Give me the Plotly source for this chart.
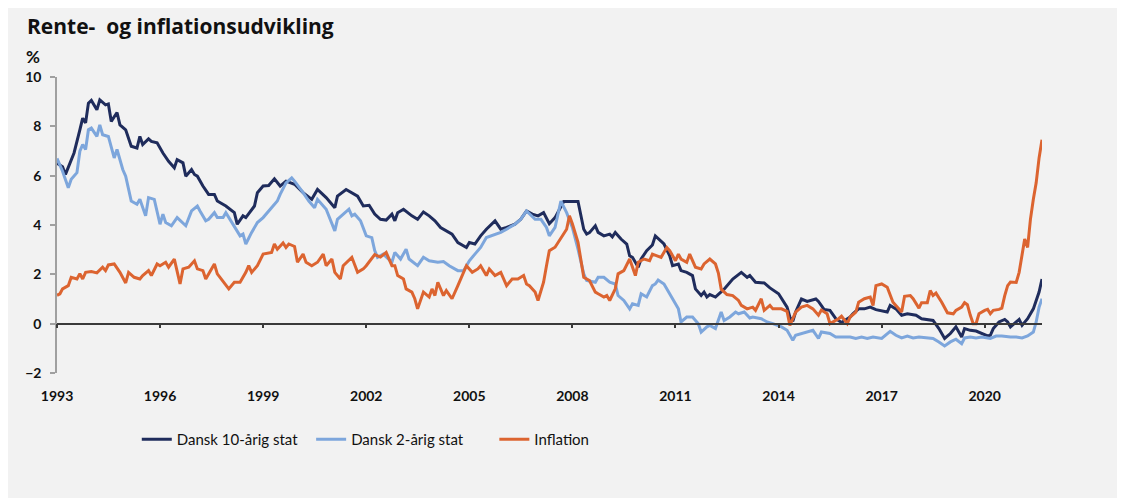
import plotly.graph_objects as go

# Month offsets counted from January 1993, values in percent
m10 = [0, 2, 3, 6, 8, 9, 10, 11, 12, 14, 15, 17, 18, 19, 21, 22, 24, 26, 28, 29, 30, 32, 33, 35, 37, 39, 41, 42, 44, 45,
       47, 48, 49, 51, 53, 55, 56, 59, 62, 63, 65, 66, 69, 70, 72, 74, 76, 78, 80, 83, 86, 89, 91, 94, 97, 98, 101, 103, 105, 107,
       109, 111, 113, 115, 117, 118, 119, 121, 124, 126, 128, 130, 132, 134, 136, 138, 140, 143, 144, 146, 148, 150, 153, 155, 157, 160, 162, 164, 166, 168,
       170, 171, 172, 174, 176, 177, 182, 183, 184, 185, 186, 188, 189, 191, 193, 194, 195, 197, 199, 200, 201, 203, 204, 206, 208, 209, 211, 212, 214, 215,
       217, 218, 220, 222, 223, 225, 226, 227, 228, 230, 233, 236, 239, 241, 242, 244, 247, 249, 252, 253, 254, 255, 256, 257, 258, 260, 262, 265, 266, 268,
       270, 272, 274, 277, 278, 280, 282, 284, 286, 290, 291, 293, 295, 297, 300, 302, 306, 308, 310, 312, 314, 316, 317, 319, 321, 323, 325, 326, 327, 329,
       331, 332, 333, 335, 336, 337, 339, 341, 343, 344]
v10 = [6.5, 6.36, 6.05, 6.92, 7.86, 8.33, 8.14, 8.94, 9.05, 8.67, 9.07, 8.87, 8.91, 8.2, 8.56, 8.06, 7.86, 7.19, 7.12, 7.59, 7.26, 7.49, 7.39, 7.33, 6.92, 6.58, 6.32, 6.65, 6.52, 5.98,
       6.25, 6.05, 5.98, 5.58, 5.24, 5.24, 4.97, 4.77, 4.5, 4.03, 4.37, 4.3, 4.77, 5.31, 5.58, 5.6, 5.87, 5.58, 5.78, 5.65, 5.31, 5.04, 5.44, 5.11, 4.7, 5.17, 5.44, 5.31, 5.17, 4.77,
       4.8, 4.44, 4.23, 4.2, 4.44, 4.17, 4.5, 4.64, 4.37, 4.23, 4.53, 4.37, 4.17, 3.9, 3.76, 3.63, 3.29, 3.09, 3.29, 3.23, 3.56, 3.83, 4.17, 3.83, 3.9, 4.03, 4.23, 4.57, 4.44, 4.37,
       4.5, 4.3, 4.05, 4.3, 4.77, 4.95, 4.95, 4.37, 3.83, 3.63, 3.69, 3.97, 3.7, 3.56, 3.63, 3.52, 3.7, 3.43, 3.23, 2.75, 2.69, 2.29, 2.62, 2.96, 3.19, 3.56, 3.36, 3.23, 2.75, 2.35,
       2.42, 2.15, 2.08, 1.95, 1.41, 1.14, 1.28, 1.08, 1.18, 1.08, 1.4, 1.81, 2.08, 1.88, 1.95, 1.68, 1.65, 1.45, 1.21, 1.01, 0.87, 0.67, 0.27, 0.1, 0.47, 1.0, 0.9, 1.0, 0.9, 0.57,
       0.54, 0.2, 0.05, 0.27, 0.4, 0.6, 0.6, 0.67, 0.57, 0.47, 0.74, 0.6, 0.34, 0.4, 0.34, 0.2, 0.13, -0.2, -0.6, -0.4, -0.13, -0.54, -0.2, -0.27, -0.3, -0.4, -0.5, -0.47, -0.2, 0.07,
       0.17, 0.07, -0.13, 0.07, 0.17, -0.07, 0.2, 0.6, 1.28, 1.81]

m2 = [0, 2, 4, 5, 7, 8, 9, 10, 11, 12, 14, 15, 16, 18, 20, 21, 23, 24, 26, 28, 29, 31, 32, 34, 36, 37, 38, 40, 42, 45,
      47, 49, 50, 52, 53, 55, 56, 58, 59, 62, 64, 65, 66, 68, 70, 72, 75, 77, 78, 80, 82, 83, 86, 88, 90, 91, 94, 97, 98, 100,
      102, 103, 104, 106, 108, 110, 111, 112, 114, 117, 118, 120, 122, 123, 126, 128, 130, 133, 135, 137, 140, 142, 144, 146, 148, 150, 153, 155, 157, 160,
      162, 164, 167, 169, 171, 172, 174, 176, 178, 180, 182, 183, 184, 185, 188, 189, 191, 193, 195, 196, 198, 200, 201, 203, 204, 206, 208, 209, 210, 212,
      214, 216, 217, 218, 220, 222, 224, 225, 227, 228, 230, 232, 233, 235, 237, 238, 240, 242, 243, 246, 248, 250, 253, 255, 257, 258, 260, 262, 264, 266,
      267, 270, 272, 274, 277, 279, 281, 283, 285, 288, 291, 293, 295, 297, 299, 301, 304, 306, 308, 310, 312, 314, 316, 317, 319, 321, 323, 326, 328, 330,
      333, 335, 337, 339, 341, 342, 343, 344]
v2 = [6.7, 6.18, 5.51, 5.85, 6.12, 6.99, 7.26, 7.06, 7.86, 7.93, 7.59, 8.06, 7.66, 7.59, 6.72, 7.06, 6.25, 5.98, 4.97, 4.84, 5.04, 4.37, 5.11, 5.04, 4.03, 4.44, 4.1, 3.97, 4.3, 3.97,
      4.57, 4.77, 4.57, 4.17, 4.23, 4.5, 4.3, 4.3, 4.5, 3.97, 3.56, 3.63, 3.23, 3.7, 4.1, 4.3, 4.7, 4.97, 5.24, 5.71, 5.91, 5.78, 5.31, 4.97, 4.7, 5.04, 4.64, 3.76, 4.23, 4.44,
      4.64, 4.37, 4.44, 4.17, 3.56, 3.49, 2.96, 2.69, 2.82, 2.49, 2.89, 2.62, 3.02, 2.62, 2.35, 2.69, 2.55, 2.49, 2.52, 2.35, 2.15, 2.15, 2.55, 2.82, 3.09, 3.49, 3.63, 3.7, 3.83, 4.03,
      4.23, 4.57, 4.23, 4.23, 3.9, 3.56, 3.9, 4.97, 4.5, 3.9, 3.02, 2.55, 2.02, 1.75, 1.68, 1.88, 1.88, 1.68, 1.61, 1.14, 0.94, 0.6, 0.81, 0.74, 1.21, 1.08, 1.54, 1.61, 1.77, 1.61,
      1.21, 0.81, 0.6, 0.07, 0.27, 0.27, 0.0, -0.34, -0.13, -0.07, -0.2, 0.47, 0.13, 0.27, 0.47, 0.4, 0.47, 0.23, 0.27, 0.2, 0.07, 0.0, -0.13, -0.27, -0.67, -0.47, -0.4, -0.34, -0.27, -0.6,
      -0.34, -0.4, -0.54, -0.54, -0.54, -0.6, -0.54, -0.6, -0.54, -0.6, -0.31, -0.47, -0.58, -0.5, -0.58, -0.54, -0.58, -0.6, -0.74, -0.9, -0.74, -0.63, -0.81, -0.58, -0.54, -0.58, -0.54, -0.6, -0.5, -0.5,
      -0.54, -0.54, -0.58, -0.5, -0.34, 0.07, 0.67, 1.01]

mi = [0, 1, 2, 4, 5, 7, 8, 9, 10, 12, 14, 16, 17, 18, 20, 22, 24, 25, 27, 29, 30, 32, 33, 35, 36, 38, 39, 41, 43, 44,
      46, 48, 49, 51, 52, 55, 56, 57, 60, 62, 64, 66, 67, 68, 70, 72, 75, 76, 77, 79, 80, 81, 83, 84, 86, 87, 89, 91, 93, 94,
      96, 97, 99, 100, 102, 103, 105, 107, 108, 110, 111, 113, 115, 117, 118, 119, 121, 122, 124, 125, 126, 128, 130, 131, 132, 133, 135, 136, 138, 140,
      142, 143, 145, 147, 148, 150, 151, 153, 155, 157, 159, 161, 163, 164, 165, 167, 168, 170, 171, 172, 174, 176, 178, 179, 180, 182, 183, 184, 186, 188,
      189, 191, 192, 193, 195, 196, 198, 200, 202, 203, 205, 207, 208, 210, 211, 213, 214, 216, 217, 218, 220, 221, 223, 225, 226, 228, 230, 231, 232, 234,
      236, 238, 239, 241, 243, 244, 246, 247, 249, 250, 253, 255, 256, 258, 260, 262, 264, 266, 267, 269, 270, 273, 274, 276, 277, 279, 280, 282, 284, 285,
      286, 288, 290, 292, 294, 295, 296, 298, 299, 301, 302, 304, 305, 306, 307, 309, 311, 313, 314, 316, 317, 318, 319, 320, 321, 322, 324, 325, 326, 327,
      329, 330, 331, 332, 333, 335, 336, 337, 338, 339, 340, 341, 342, 343, 344]
vi = [1.15, 1.21, 1.41, 1.54, 1.88, 1.81, 2.02, 1.81, 2.08, 2.11, 2.06, 2.29, 2.15, 2.38, 2.42, 2.08, 1.65, 2.08, 1.88, 1.81, 1.95, 2.15, 1.95, 2.42, 2.35, 2.49, 2.29, 2.62, 1.61, 2.22,
      2.29, 2.55, 2.22, 2.15, 1.81, 2.42, 2.02, 1.88, 1.41, 1.68, 1.68, 2.08, 2.35, 2.08, 2.35, 2.82, 2.89, 3.23, 3.02, 3.27, 3.09, 3.23, 3.13, 2.49, 2.82, 2.49, 2.35, 2.49, 2.82, 2.35,
      2.62, 2.08, 1.81, 2.35, 2.55, 2.69, 2.08, 2.22, 2.35, 2.62, 2.8, 2.7, 2.89, 2.35, 2.35, 1.95, 1.81, 1.41, 1.28, 1.01, 0.6, 1.28, 1.08, 1.41, 1.14, 1.68, 1.14, 1.34, 1.01, 1.54,
      2.08, 2.35, 2.08, 2.22, 2.35, 1.95, 2.22, 1.95, 2.08, 1.54, 1.81, 1.81, 1.95, 1.61, 1.54, 1.28, 0.94, 1.68, 2.35, 2.96, 3.1, 3.45, 3.83, 4.37, 4.05, 3.3, 2.52, 1.88, 1.75, 1.28,
      1.21, 1.08, 1.14, 0.94, 1.41, 2.02, 2.15, 2.62, 1.95, 2.49, 2.62, 2.55, 2.82, 2.75, 2.69, 3.09, 2.96, 2.55, 2.82, 2.62, 2.49, 2.82, 2.29, 2.22, 2.42, 2.62, 2.42, 2.05, 1.4, 1.18,
      1.14, 0.94, 0.74, 0.6, 0.67, 0.54, 1.01, 0.54, 0.74, 0.6, 0.6, 0.5, -0.07, 0.47, 0.67, 0.74, 0.6, 0.34, 0.55, 0.4, 0.0, 0.2, 0.3, 0.0, 0.27, 0.47, 0.87, 1.01, 1.08, 0.74,
      1.54, 1.61, 1.48, 0.87, 0.6, 0.47, 1.11, 1.14, 1.01, 0.63, 0.85, 0.85, 1.34, 1.14, 1.24, 0.87, 0.44, 0.4, 0.54, 0.67, 0.85, 0.77, 0.34, 0.0, 0.0, 0.4, 0.54, 0.58, 0.4, 0.54,
      0.58, 0.63, 1.14, 1.54, 1.69, 1.67, 2.08, 2.82, 3.43, 3.09, 4.23, 5.04, 5.71, 6.72, 7.46]

tick_years = [1993, 1996, 1999, 2002, 2005, 2008, 2011, 2014, 2017, 2020]
names = ["Dansk 10-årig stat", "Dansk 2-årig stat", "Inflation"]
colors = ["#1f2c5c", "#7da6dc", "#dc6430"]


def to_dates(months):
    return [f"{1993 + m // 12}-{m % 12 + 1:02d}-01" for m in months]


FONT = "Lato"
fig = go.Figure()
series = [(m10, v10), (m2, v2), (mi, vi)]
legends = ["legend", "legend2", "legend3"]
xaxes = ["x", "x", "x2"]
for (mm, vv), name, col, lg, xa in zip(series, names, colors, legends, xaxes):
    fig.add_trace(go.Scatter(x=to_dates(mm), y=vv, mode="lines", name=name, xaxis=xa,
                             line=dict(color=col, width=3), legend=lg, showlegend=True))

end_date = to_dates([m10[-1]])[0]
tickvals = [f"{y}-01-01" for y in tick_years]
ticktext = [str(y) for y in tick_years]

W, H = 1117, 490
fig.update_layout(
    width=W, height=H,
    margin=dict(l=49, r=83, t=69, b=125),
    paper_bgcolor="#f2f2f2", plot_bgcolor="#f2f2f2",
    font=dict(family=FONT, color="#1a1a1a"),
    showlegend=True,
    title=dict(text="<b>Rente-  og inflationsudvikling</b>", x=19 / W, xanchor="left",
               y=1 - 19 / H, yanchor="middle",
               font=dict(size=21, family="Open Sans", color="#111111")),
    xaxis=dict(type="date", range=["1993-01-01", end_date], anchor="free", position=2 / 12,
               showline=True, linecolor="#3a3a3a", linewidth=1.5, ticks="outside", ticklen=4,
               tickwidth=1.5, tickcolor="#3a3a3a", tickvals=tickvals, showticklabels=False,
               showgrid=False, zeroline=False),
    xaxis2=dict(type="date", overlaying="x", matches="x", anchor="y", side="bottom",
                showline=False, ticks="outside", ticklen=10, tickcolor="rgba(0,0,0,0)",
                tickvals=tickvals, ticktext=ticktext, showgrid=False, zeroline=False,
                tickfont=dict(size=14, family=FONT, weight="bold", color="#111111")),
    yaxis=dict(range=[-2, 10], dtick=2, showline=True, linecolor="#a0a0a0", linewidth=1.5,
               ticks="outside", ticklen=5, tickcolor="#a0a0a0", tickwidth=1.5, showgrid=False,
               zeroline=False, ticklabelstandoff=6,
               tickfont=dict(size=14, family=FONT, weight="bold", color="#111111")),
    annotations=[dict(text="<b>%</b>", xref="paper", yref="paper", x=-0.033, y=1.07,
                      xanchor="left", yanchor="middle", showarrow=False,
                      font=dict(size=17, family=FONT, color="#111111"))],
)
leg_common = dict(orientation="h", yanchor="middle", y=-0.225, xanchor="left",
                  bgcolor="rgba(0,0,0,0)", itemwidth=30,
                  font=dict(size=15, family=FONT, color="#111111"))
fig.update_layout(legend=dict(x=0.081, **leg_common),
                  legend2=dict(x=0.258, **leg_common),
                  legend3=dict(x=0.444, **leg_common))

fig.write_html("out.html")
